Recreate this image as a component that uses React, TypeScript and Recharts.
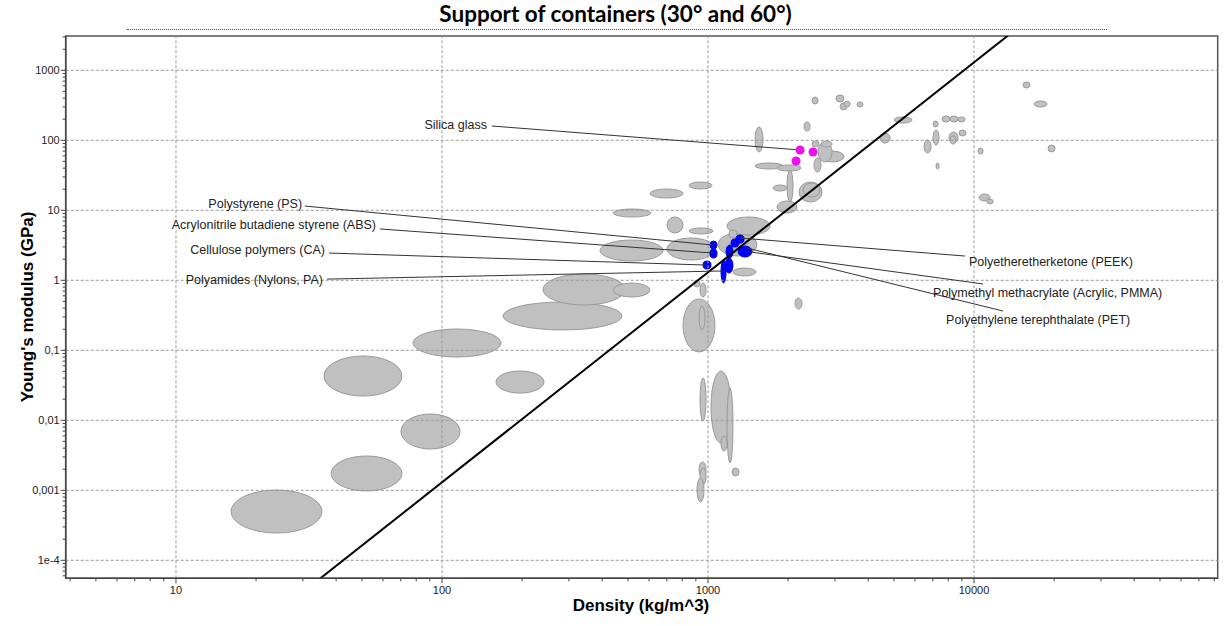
import React from 'react';
import {
    ScatterChart,
    Scatter,
    XAxis,
    YAxis,
    ReferenceArea,
    ReferenceLine,
    ReferenceDot,
} from 'recharts';

const densityTicks = [10, 100, 1000, 10000];
const densityTickLabels = ['10', '100', '1000', '10000'];
const modulusTicks = [1e-4, 0.001, 0.01, 0.1, 1, 10, 100, 1000];
const modulusTickLabels = ['1e-4', '0,001', '0,01', '0,1', '1', '10', '100', '1000'];
const densityDomain = [3.85, 82400];
const modulusDomain = [5.53e-5, 3090];

// material families: [density min, density max, modulus min, modulus max]
const grayBubbles = [
    [16.1, 35.4, 2.45e-4, 1.01e-3],
    [38.3, 70.7, 9.77e-4, 3.09e-3],
    [70.1, 116.9, 0.00389, 0.0123],
    [36.0, 70.7, 0.0222, 0.0829],
    [77.8, 166.7, 0.0802, 0.2015],
    [159.6, 241.8, 0.0245, 0.0506],
    [169.6, 475, 0.195, 0.49],
    [239.7, 487.5, 0.444, 1.23],
    [439.5, 605.3, 0.577, 0.915],
    [392.6, 677.3, 1.887, 3.76],
    [701.3, 1062, 1.95, 4.02],
    [1090, 1528, 2.22, 4.74],
    [1179, 1711, 4.44, 8.02],
    [701.3, 805.4, 4.74, 8.02],
    [848.6, 1044, 4.59, 5.59],
    [439.5, 610.5, 8.02, 10.44],
    [605.3, 805.4, 14.99, 20.15],
    [848.6, 1035, 20.15, 25.36],
    [1241, 1515, 1.152, 1.498],
    [886, 933, 0.802, 1.01],
    [933, 983, 0.577, 0.915],
    [805.4, 1062, 0.0946, 0.541],
    [925.3, 974.3, 0.195, 0.4295],
    [933, 983, 0.00977, 0.0402],
    [1026, 1220, 0.00474, 0.0506],
    [1179, 1241, 0.00246, 0.0289],
    [1119, 1179, 0.00364, 0.00597],
    [1231, 1308, 0.0016, 0.00208],
    [925.3, 983, 0.00155, 0.00254],
    [933, 983, 0.00119, 0.00208],
    [909, 966, 0.00068, 0.0015],
    [2124, 2256, 0.389, 0.559],
    [1502, 1610, 68.1, 155],
    [1502, 1914, 38.9, 47.4],
    [1817, 2236, 36.4, 44.4],
    [1982, 2087, 13.14, 37.6],
    [1756, 1982, 18.87, 22.97],
    [1817, 2160, 9.15, 13.58],
    [2198, 2683, 13.14, 25.36],
    [2276, 2637, 15.49, 24.5],
    [2503, 2660, 35.25, 55.9],
    [2296, 2418, 135.8, 182.6],
    [2460, 2614, 80.2, 97.7],
    [2660, 3246, 49, 70.3],
    [2592, 2926, 49, 94.6],
    [2660, 2926, 80.2, 97.7],
    [2460, 2592, 330, 415.6],
    [3029, 3246, 352.4, 443.6],
    [3137, 3332, 271, 341],
    [3246, 3419, 299, 364],
    [3633, 3824, 299, 352.4],
    [4434, 4833, 91.5, 127.1],
    [5003, 5846, 176.7, 215.2],
    [7013, 7323, 155, 188.6],
    [7580, 8123, 182.6, 222.4],
    [8123, 8705, 182.6, 222.4],
    [8705, 9252, 182.6, 215.2],
    [7013, 7386, 85.7, 140.3],
    [6486, 6891, 65.8, 101],
    [8054, 8705, 91.5, 131.4],
    [8123, 8556, 88.5, 115.2],
    [8782, 9331, 115.2, 140.3],
    [7197, 7386, 38.9, 47.4],
    [10350, 10810, 63.7, 77.6],
    [15280, 16230, 558.5, 680.5],
    [16810, 18810, 299, 364],
    [18970, 20160, 68.1, 85.7],
    [10440, 11490, 13.58, 17.1],
    [11190, 11790, 12.3, 14.5],
    [1199, 1285, 4.02, 5.23],
];

// selected polymers
const blueBubbles = [
    [1017, 1081, 2.8, 3.64],
    [1017, 1081, 2.08, 2.8],
    [957.7, 1026, 1.45, 1.887],
    [1169, 1241, 2.08, 3.19],
    [1220, 1308, 2.99, 3.89],
    [1274, 1366, 3.41, 4.44],
    [1297, 1463, 2.15, 3.09],
    [1159, 1241, 1.27, 2.08],
    [1119, 1169, 0.915, 1.95],
];

const silicaPoints = [
    { density: 2218, modulus: 72.7 },
    { density: 2482, modulus: 68.1 },
    { density: 2142, modulus: 50.6 },
];

// E / rho^3 = const guide line
const guideLine = [
    { x: 20, y: 1.04e-5 },
    { x: 20000, y: 10400 },
];

const calloutNames = [
    'Silica glass',
    'Polystyrene (PS)',
    'Acrylonitrile butadiene styrene (ABS)',
    'Cellulose polymers (CA)',
    'Polyamides (Nylons, PA)',
    'Polyetheretherketone (PEEK)',
    'Polymethyl methacrylate (Acrylic, PMMA)',
    'Polyethylene terephthalate (PET)',
];
const calloutAnchors = ['end', 'end', 'end', 'end', 'end', 'start', 'start', 'start'];
const calloutTextAt = [
    [147.6, 165],
    [29.8, 12.3],
    [56.5, 6.17],
    [36.3, 2.71],
    [35.7, 1.01],
    [9570, 1.83],
    [7013, 0.659],
    [7850, 0.271],
];
const calloutFrom = [
    [154, 160],
    [30.5, 11.5],
    [58.5, 5.41],
    [37.6, 2.45],
    [37.0, 1.04],
    [9252, 2.22],
    [10810, 0.886],
    [12850, 0.364],
];
const calloutTo = [
    [2218, 72.7],
    [1044, 3.19],
    [1044, 2.45],
    [990, 1.65],
    [1148, 1.36],
    [1318, 4.02],
    [1439, 2.54],
    [1402, 2.89],
];

function minorTicks(majors: number[], lo: number, hi: number) {
    const out: number[] = [];
    const decades = [majors[0] / 10, ...majors];
    decades.forEach((d) => {
        for (let m = 2; m <= 9; m++) {
            const v = d * m;
            if (v >= lo && v <= hi) out.push(v);
        }
    });
    return out;
}

const xTicks = [...densityTicks, ...minorTicks(densityTicks, densityDomain[0], densityDomain[1])].sort((a, b) => a - b);
const yTicks = [...modulusTicks, ...minorTicks(modulusTicks, modulusDomain[0], modulusDomain[1])].sort((a, b) => a - b);

const XTick = (props: any) => {
    const { x, y, payload } = props;
    const i = densityTicks.indexOf(payload.value);
    const major = i >= 0;
    return (
        <g>
            <line x1={x} x2={x} y1={y} y2={y + (major ? 5 : 3)} stroke="#444" />
            {major && (
                <text x={x} y={y + 16} textAnchor="middle" fontSize={11} fill="#222">
                    {densityTickLabels[i]}
                </text>
            )}
        </g>
    );
};

const YTick = (props: any) => {
    const { x, y, payload } = props;
    const i = modulusTicks.indexOf(payload.value);
    const major = i >= 0;
    return (
        <g>
            <line x1={x - (major ? 5 : 3)} x2={x} y1={y} y2={y} stroke="#444" />
            {major && (
                <text x={x - 6} y={y + 4} textAnchor="end" fontSize={11} fill="#222">
                    {modulusTickLabels[i]}
                </text>
            )}
        </g>
    );
};

const ellipseShape = (fill: string, stroke: string) => (p: any) => (
    <ellipse
        cx={p.x + p.width / 2}
        cy={p.y + p.height / 2}
        rx={Math.abs(p.width) / 2}
        ry={Math.abs(p.height) / 2}
        fill={fill}
        stroke={stroke}
        strokeWidth={1}
    />
);

export default function App() {
    return (
        <div
            style={{
                position: 'absolute',
                left: 0,
                top: 0,
                width: 1231,
                height: 626,
                background: '#fff',
                fontFamily: '"Liberation Sans", Arial, sans-serif',
            }}
        >
            <div
                style={{
                    position: 'absolute',
                    left: 0,
                    width: 1231,
                    top: 0,
                    textAlign: 'center',
                    fontFamily: 'Lato, sans-serif',
                    fontWeight: 700,
                    fontSize: 22.5,
                    lineHeight: '27px',
                    color: '#000',
                }}
            >
                Support of containers (30° and 60°)
            </div>
            <div
                style={{
                    position: 'absolute',
                    left: 127,
                    width: 980,
                    top: 29,
                    borderTop: '1px dotted #555',
                }}
            />
            <div
                style={{
                    position: 'absolute',
                    left: 28,
                    top: 307,
                    transform: 'translate(-50%, -50%) rotate(-90deg)',
                    whiteSpace: 'nowrap',
                    fontWeight: 700,
                    fontSize: 17,
                    color: '#000',
                }}
            >
                Young's modulus (GPa)
            </div>
            <div
                style={{
                    position: 'absolute',
                    left: 641,
                    top: 606,
                    transform: 'translate(-50%, -50%)',
                    whiteSpace: 'nowrap',
                    fontWeight: 700,
                    fontSize: 17,
                    color: '#000',
                }}
            >
                Density (kg/m^3)
            </div>
            <ScatterChart
                width={1231}
                height={626}
                margin={{ top: 36, right: 13.3, bottom: 17.7, left: 5.7 }}
                style={{ position: 'absolute', left: 0, top: 0 }}
            >
                <XAxis
                    type="number"
                    dataKey="density"
                    scale="log"
                    domain={densityDomain}
                    allowDataOverflow
                    ticks={xTicks}
                    interval={0}
                    tickSize={0}
                    tickMargin={0}
                    tick={<XTick />}
                    height={30}
                    axisLine={{ stroke: '#444', strokeWidth: 1.5 }}
                />
                <YAxis
                    type="number"
                    dataKey="modulus"
                    scale="log"
                    domain={modulusDomain}
                    allowDataOverflow
                    ticks={yTicks}
                    interval={0}
                    tickSize={0}
                    tickMargin={0}
                    tick={<YTick />}
                    width={60}
                    axisLine={{ stroke: '#444', strokeWidth: 1.5 }}
                />
                {densityTicks.map((v) => (
                    <ReferenceLine key={`gx-${v}`} x={v} stroke="#999" strokeDasharray="3 2" />
                ))}
                {modulusTicks.map((v) => (
                    <ReferenceLine key={`gy-${v}`} y={v} stroke="#999" strokeDasharray="3 2" />
                ))}
                <ReferenceArea
                    x1={densityDomain[0]}
                    x2={densityDomain[1]}
                    y1={modulusDomain[0]}
                    y2={modulusDomain[1]}
                    ifOverflow="visible"
                    fill="none"
                    fillOpacity={0}
                    stroke="#555"
                    strokeWidth={1.5}
                />
                {grayBubbles.map((b, i) => (
                    <ReferenceArea
                        key={`g-${i}`}
                        x1={b[0]}
                        x2={b[1]}
                        y1={b[2]}
                        y2={b[3]}
                        ifOverflow="visible"
                        shape={ellipseShape('#c0c0c0', '#9a9a9a')}
                    />
                ))}
                {blueBubbles.map((b, i) => (
                    <ReferenceArea
                        key={`b-${i}`}
                        x1={b[0]}
                        x2={b[1]}
                        y1={b[2]}
                        y2={b[3]}
                        ifOverflow="visible"
                        shape={ellipseShape('#0000ff', '#0000e0')}
                    />
                ))}
                <ReferenceLine
                    segment={guideLine}
                    ifOverflow="hidden"
                    stroke="#000"
                    strokeWidth={2}
                />
                {calloutNames.map((name, i) => (
                    <ReferenceLine
                        key={`cl-${i}`}
                        segment={[
                            { x: calloutFrom[i][0], y: calloutFrom[i][1] },
                            { x: calloutTo[i][0], y: calloutTo[i][1] },
                        ]}
                        ifOverflow="visible"
                        stroke="#333"
                        strokeWidth={1}
                    />
                ))}
                {calloutNames.map((name, i) => (
                    <ReferenceDot
                        key={`ct-${i}`}
                        x={calloutTextAt[i][0]}
                        y={calloutTextAt[i][1]}
                        ifOverflow="visible"
                        shape={(p: any) => (
                            <text
                                x={p.cx}
                                y={p.cy + 4}
                                textAnchor={calloutAnchors[i]}
                                fontSize={12.5}
                                fill="#222"
                            >
                                {name}
                            </text>
                        )}
                    />
                ))}
                <Scatter data={silicaPoints} fill="#ee11ee" isAnimationActive={false} />
            </ScatterChart>
        </div>
    );
}
